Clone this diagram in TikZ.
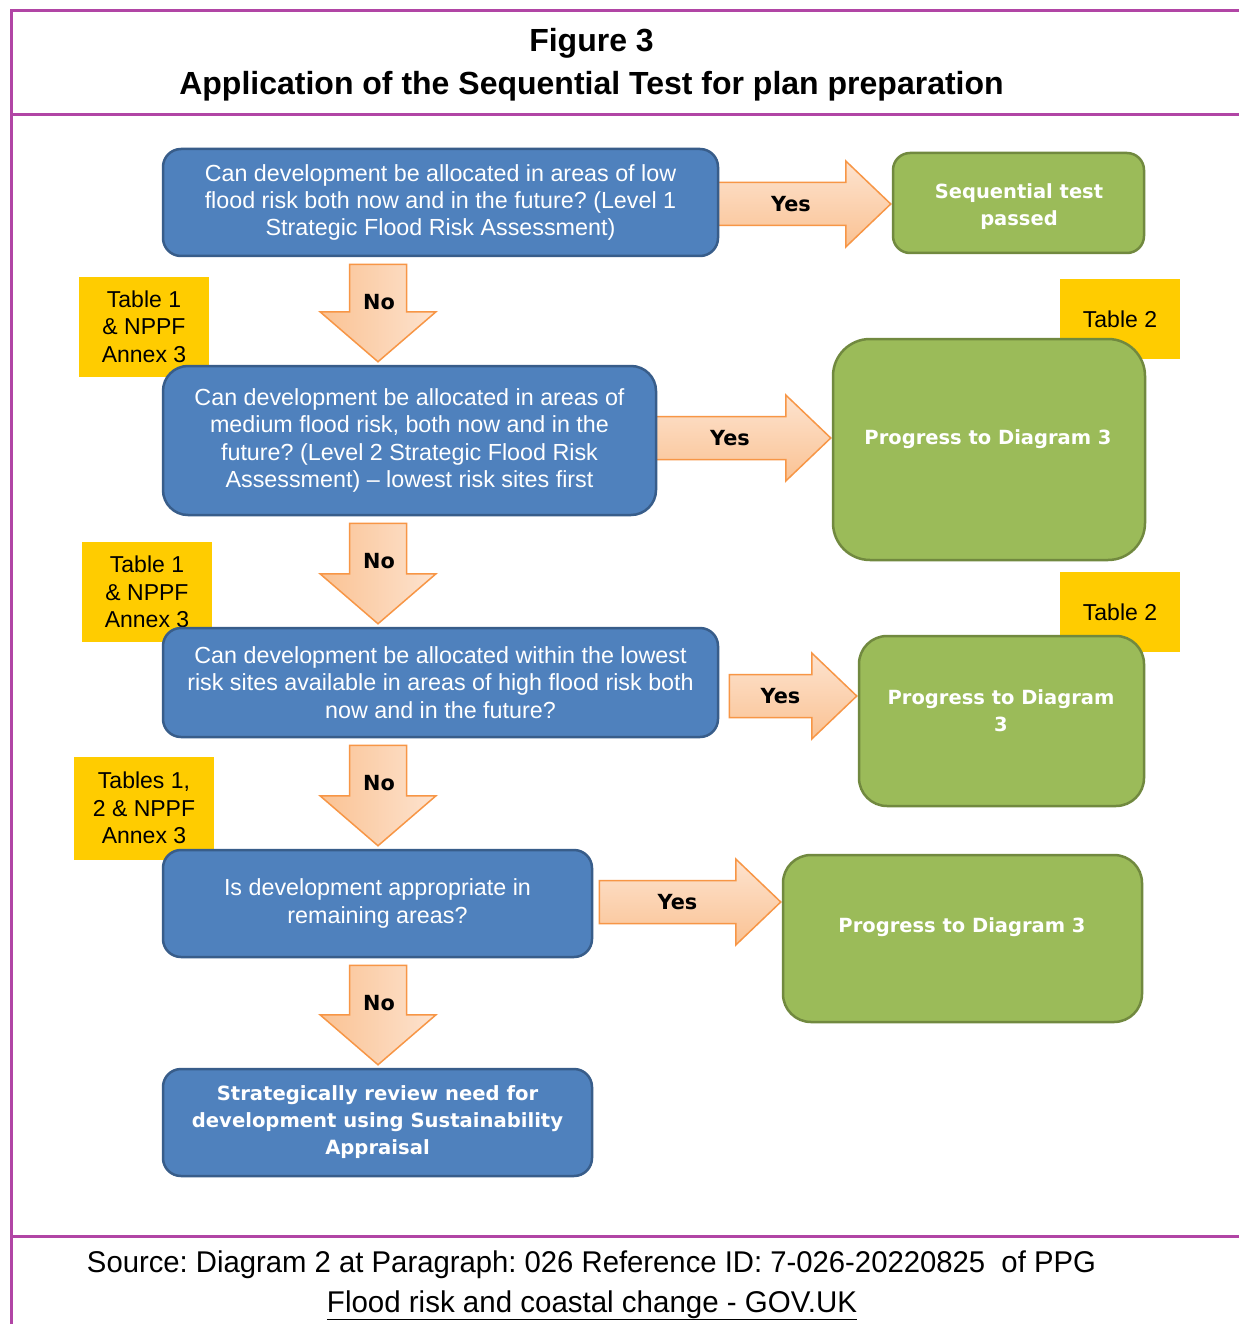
\documentclass[tikz,border=0pt]{standalone}
\usepackage{fontspec}
\usepackage{graphicx}
\setmainfont{Liberation Sans}
\newfontfamily\verd{DejaVu Sans}
\usetikzlibrary{calc}
\frenchspacing
\definecolor{bluefill}{HTML}{4F81BD}
\definecolor{bluedraw}{HTML}{385D8A}
\definecolor{greenfill}{HTML}{9BBB59}
\definecolor{greendraw}{HTML}{71893F}
\definecolor{yellowfill}{HTML}{FFCC00}
\definecolor{arrowdraw}{HTML}{F79646}
\definecolor{arrowdark}{HTML}{FAC293}
\definecolor{arrowlight}{HTML}{FDE3CF}
\definecolor{framecol}{HTML}{B145A5}
\pgfdeclarelayer{bottom}
\pgfdeclarelayer{bg}
\pgfsetlayers{bottom,bg,main}
\tikzset{
  bluebox/.style={draw=bluedraw, line width=2.5pt, fill=bluefill, rounded corners=18pt,
    text=white, align=center, inner sep=0pt, font=\fontsize{23.3}{27.2}\selectfont},
  greenbox/.style={draw=greendraw, line width=2.5pt, fill=greenfill, rounded corners=17pt,
    inner sep=0pt},
  greentext/.style={text=white, align=center, inner sep=0pt,
    font=\verd\bfseries\fontsize{19.5}{27}\selectfont},
  tablebox/.style={fill=yellowfill, inner sep=0pt, align=center, text=black,
    font=\fontsize{23}{27.5}\selectfont},
  downarrowsty/.style={draw=arrowdraw, line width=1.5pt, line join=miter,
    left color=arrowdark, right color=arrowlight},
  rightarrowsty/.style={draw=arrowdraw, line width=1.5pt, line join=miter,
    top color=arrowlight, bottom color=arrowdark},
  yn/.style={font=\verd\bfseries\fontsize{20.8}{22}\selectfont, text=black, inner sep=0pt},
  frameline/.style={draw=framecol, line width=3pt},
  titletext/.style={font=\bfseries\fontsize{32}{33}\selectfont, inner sep=0pt},
}
% down block arrow: from node, to node, x (px), label
\newcommand{\downarr}[4]{%
  \path[downarrowsty] let \p1=(#1.south), \p2=(#2.north) in
    ({#3pt-28.5pt},{\y1-7pt}) -- ({#3pt+28.5pt},{\y1-7pt}) -- ({#3pt+28.5pt},{\y2+53pt})
    -- ({#3pt+58pt},{\y2+53pt}) -- ({#3pt},{\y2+3pt}) -- ({#3pt-58pt},{\y2+53pt})
    -- ({#3pt-28.5pt},{\y2+53pt}) -- cycle
    node[yn] at ({#3pt+1pt},{\y1-7pt-38pt}) {#4};}
% right block arrow: from node, to node, gap, y centre (px), label
\newcommand{\rightarr}[5]{%
  \path[rightarrowsty] let \p1=(#1.east), \p2=(#2.west) in
    ({\x1+#3pt},{-#4pt+21.5pt}) -- ({\x2-46pt},{-#4pt+21.5pt}) -- ({\x2-46pt},{-#4pt+43pt})
    -- ({\x2-1pt},{-#4pt}) -- ({\x2-46pt},{-#4pt-43pt}) -- ({\x2-46pt},{-#4pt-21.5pt})
    -- ({\x1+#3pt},{-#4pt-21.5pt}) -- cycle
    node[yn] at ({(\x1+#3pt+\x2-46pt)/2+10pt},{-#4pt}) {#5};}
\begin{document}
\begin{tikzpicture}[x=1pt,y=-1pt]
\useasboundingbox (0,0) rectangle (1239,1324);
\begin{pgfonlayer}{bottom}
\fill[white] (0,0) rectangle (1239,1324);
\end{pgfonlayer}
% frame
\coordinate (ftl) at (11,10);
\coordinate (fbl) at (11,1324);
\coordinate (ftr) at (1239,11);
\coordinate (f1l) at (11,115);
\coordinate (f1r) at (1239,115);
\coordinate (f2l) at (11,1236);
\coordinate (f2r) at (1239,1236);
\draw[frameline] (fbl) -- (ftl |- ftr) -- (ftr);
\draw[frameline] (f1l) -- (f1r);
\draw[frameline] (f2l) -- (f2r);
% title
\node[titletext] (t1) at (591.5,43) {Figure 3};
\node[titletext] (t2) at (591.5,86) {Application of the Sequential Test for plan preparation};
% yellow tables
\node[tablebox, minimum width=130pt, minimum height=100pt] (y1) at (144,326.5) {Table 1\\\& NPPF\\Annex 3};
\node[tablebox, minimum width=130pt, minimum height=100pt] (y2) at (147,592) {Table 1\\\& NPPF\\Annex 3};
\node[tablebox, minimum width=140pt, minimum height=103pt] (y3) at (144,808) {Tables 1,\\2 \& NPPF\\Annex 3};
\node[tablebox, minimum width=120pt, minimum height=80pt] (y4) at (1120,319) {Table 2};
\node[tablebox, minimum width=120pt, minimum height=80pt] (y5) at (1120,612) {Table 2};
% blue boxes
\node[bluebox, minimum width=555pt, minimum height=107pt] (b1) at (440.5,202.5)
  {Can development be allocated in areas of low\\flood risk both now and in the future? (Level 1\\Strategic Flood Risk Assessment)};
\node[bluebox, rounded corners=25pt, minimum width=493pt, minimum height=149pt] (b2) at (409.5,440.5)
  {Can development be allocated in areas of\\medium flood risk, both now and in the\\future? (Level 2 Strategic Flood Risk\\Assessment) -- lowest risk sites first};
\node[bluebox, minimum width=555pt, minimum height=109pt] (b3) at (440.5,682.5)
  {Can development be allocated within the lowest\\risk sites available in areas of high flood risk both\\now and in the future?};
\node[bluebox, minimum width=429pt, minimum height=107pt] (b4) at (377.5,903.5)
  {Is development appropriate in\\remaining areas?};
\node[bluebox, minimum width=429pt, minimum height=107pt, font=\verd\bfseries\fontsize{19.6}{27}\selectfont] (b5) at (377.5,1122.5)
  {Strategically review need for\\development using Sustainability\\Appraisal};
% green boxes
\node[greenbox, minimum width=251pt, minimum height=100pt] (g1) at (1018.5,203) {};
\node[greentext] (g1t) at (1019,206.5) {Sequential test\\passed};
\node[greenbox, rounded corners=37pt, minimum width=312pt, minimum height=221pt] (g2) at (989,449.5) {};
\node[greentext] (g2t) at (988,439) {Progress to Diagram 3};
\node[greenbox, rounded corners=28pt, minimum width=285pt, minimum height=170pt] (g3) at (1001.5,721) {};
\node[greentext] (g3t) at (1001,710.5) {Progress to Diagram\\3};
\node[greenbox, rounded corners=28pt, minimum width=359pt, minimum height=167pt] (g4) at (962.5,938.5) {};
\node[greentext] (g4t) at (962,927) {Progress to Diagram 3};
% block arrows
\begin{pgfonlayer}{bg}
\downarr{b1}{b2}{378}{No}
\downarr{b2}{b3}{378}{No}
\downarr{b3}{b4}{378}{No}
\downarr{b4}{b5}{378}{No}
\rightarr{b1}{g1}{-3}{204}{Yes}
\rightarr{b2}{g2}{-3}{438}{Yes}
\rightarr{b3}{g3}{10}{696}{Yes}
\rightarr{b4}{g4}{6}{902}{Yes}
\end{pgfonlayer}
% footer
\node[inner sep=0pt] (s1) at (591.5,1265) {\resizebox{1009pt}{\height}{\fontsize{30}{31}\selectfont Source: Diagram 2 at Paragraph: 026 Reference ID: 7-026-20220825\ \ of PPG}};
\node[inner sep=0pt, anchor=base] (s2) at (592,1312) {\resizebox{530pt}{\height}{\fontsize{30}{31}\selectfont\underline{Flood risk and coastal change - GOV.UK}}};
\end{tikzpicture}
\end{document}
